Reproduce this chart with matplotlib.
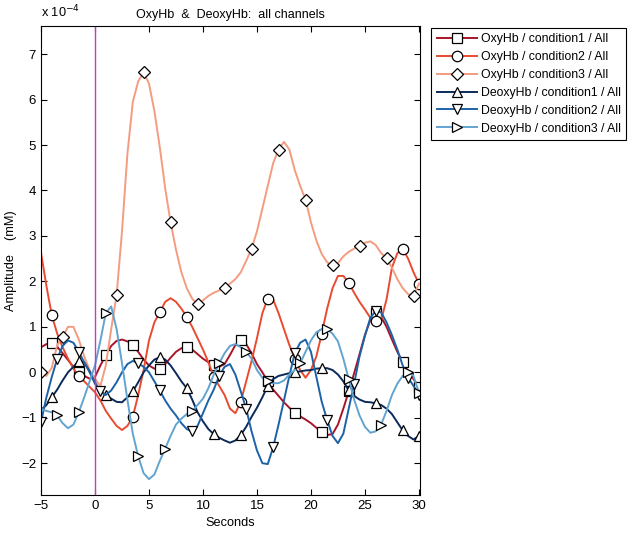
import numpy as np
import matplotlib
matplotlib.use("Agg")
import matplotlib.pyplot as plt

plt.rcParams['font.family'] = ['Liberation Sans', 'DejaVu Sans']

# time axis, seconds (0.5 s steps)
t = np.arange(-5, 30.01, 0.5)

# amplitudes in units of 1e-4 mM
oxy_c1 = [0.55, 0.62, 0.64, 0.56, 0.42, 0.27, 0.12, 0.01, -0.08, -0.14,
          -0.10, 0.15, 0.38, 0.58, 0.69, 0.72, 0.68, 0.60, 0.45, 0.28,
          0.15, 0.08, 0.08, 0.18, 0.32, 0.45, 0.53, 0.55, 0.50, 0.40,
          0.30, 0.22, 0.16, 0.12, 0.18, 0.38, 0.60, 0.72, 0.62, 0.42,
          0.18, 0.00, -0.20, -0.38, -0.52, -0.66, -0.78, -0.89, -0.97, -1.04,
          -1.12, -1.22, -1.32, -1.38, -1.36, -1.15, -0.80, -0.42, -0.02, 0.40,
          0.82, 1.15, 1.30, 1.22, 1.00, 0.72, 0.45, 0.22, 0.02, -0.15,
          -0.32]
oxy_c2 = [2.63, 1.90, 1.25, 0.85, 0.55, 0.30, 0.08, -0.08, -0.20, -0.32,
          -0.44, -0.62, -0.85, -1.02, -1.18, -1.27, -1.18, -0.98, -0.50, 0.05,
          0.70, 1.10, 1.32, 1.55, 1.63, 1.55, 1.40, 1.22, 1.00, 0.75,
          0.50, 0.22, -0.10, -0.30, -0.50, -0.80, -0.90, -0.65, -0.20, 0.25,
          0.75, 1.30, 1.62, 1.60, 1.30, 0.95, 0.60, 0.30, 0.05, -0.12,
          0.05, 0.35, 0.85, 1.40, 1.85, 2.12, 2.12, 1.97, 1.75, 1.55,
          1.38, 1.20, 1.12, 1.15, 1.60, 2.30, 2.62, 2.72, 2.50, 2.20,
          1.95]
oxy_c3 = [0.00, -0.08, 0.10, 0.60, 0.78, 1.00, 1.00, 0.72, 0.35, 0.05,
          -0.15, -0.30, 0.15, 0.95, 1.70, 3.10, 4.80, 5.95, 6.40, 6.60,
          6.35, 5.75, 4.95, 4.05, 3.30, 2.70, 2.20, 1.85, 1.62, 1.50,
          1.58, 1.68, 1.75, 1.80, 1.86, 1.95, 2.05, 2.20, 2.45, 2.72,
          3.10, 3.60, 4.10, 4.60, 4.90, 5.07, 4.90, 4.45, 4.10, 3.80,
          3.30, 2.90, 2.60, 2.42, 2.35, 2.40, 2.55, 2.65, 2.72, 2.78,
          2.85, 2.88, 2.80, 2.62, 2.52, 2.30, 2.05, 1.85, 1.72, 1.68,
          1.95]
deoxy_c1 = [-0.83, -0.72, -0.55, -0.38, -0.18, 0.00, 0.12, 0.25, 0.22, 0.02,
            -0.25, -0.42, -0.50, -0.58, -0.65, -0.66, -0.55, -0.42, -0.22, 0.00,
            0.15, 0.28, 0.33, 0.28, 0.15, -0.02, -0.20, -0.35, -0.60, -0.88,
            -1.08, -1.25, -1.36, -1.44, -1.50, -1.55, -1.50, -1.38, -1.20, -0.98,
            -0.78, -0.55, -0.30, -0.15, -0.08, -0.05, -0.02, 0.00, 0.02, 0.04,
            0.05, 0.08, 0.09, 0.09, 0.05, -0.05, -0.20, -0.40, -0.52, -0.60,
            -0.65, -0.66, -0.68, -0.72, -0.80, -0.92, -1.10, -1.28, -1.40, -1.48,
            -1.40]
deoxy_c2 = [-1.10, -0.55, -0.10, 0.30, 0.58, 0.70, 0.65, 0.45, 0.22, 0.00,
            -0.22, -0.42, -0.50, -0.40, -0.22, 0.00, 0.18, 0.25, 0.20, 0.12,
            0.00, -0.20, -0.40, -0.62, -0.80, -0.95, -1.12, -1.25, -1.30, -1.18,
            -0.90, -0.62, -0.38, -0.08, 0.12, 0.18, -0.05, -0.42, -0.80, -1.30,
            -1.72, -2.00, -2.02, -1.65, -1.15, -0.62, -0.08, 0.42, 0.65, 0.72,
            0.45, -0.10, -0.65, -1.05, -1.40, -1.56, -1.35, -0.80, -0.25, 0.35,
            0.80, 1.20, 1.35, 1.32, 1.10, 0.82, 0.50, 0.15, -0.12, -0.30,
            -0.50]
deoxy_c3 = [-0.80, -0.85, -0.88, -0.95, -1.12, -1.23, -1.15, -0.88, -0.55, -0.20,
            0.15, 0.70, 1.30, 1.45, 0.95, 0.20, -0.60, -1.35, -1.85, -2.22,
            -2.35, -2.25, -1.95, -1.68, -1.40, -1.15, -1.02, -0.92, -0.85, -0.72,
            -0.58, -0.35, -0.05, 0.20, 0.42, 0.58, 0.62, 0.55, 0.45, 0.30,
            0.05, -0.12, -0.20, -0.24, -0.24, -0.18, -0.05, 0.05, 0.20, 0.45,
            0.70, 0.88, 0.95, 0.95, 0.85, 0.68, 0.30, -0.15, -0.60, -0.95,
            -1.20, -1.33, -1.30, -1.15, -0.85, -0.50, -0.25, -0.08, 0.00, -0.08,
            -0.45]

labels = ['OxyHb / condition1 / All', 'OxyHb / condition2 / All',
          'OxyHb / condition3 / All', 'DeoxyHb / condition1 / All',
          'DeoxyHb / condition2 / All', 'DeoxyHb / condition3 / All']
series = [oxy_c1, oxy_c2, oxy_c3, deoxy_c1, deoxy_c2, deoxy_c3]
colors = ['#A8152B', '#EA4B30', '#F39C80', '#0B2A5B', '#1C62A6', '#62A4D0']
markers = ['s', 'o', 'D', '^', 'v', '>']
# which samples carry a marker
mark_idx = [
    [2, 7, 12, 17, 22, 27, 32, 37, 42, 47, 52, 57, 62, 67, 70],
    [2, 7, 17, 22, 27, 32, 37, 42, 47, 52, 57, 62, 67, 70],
    [0, 4, 14, 19, 24, 29, 34, 39, 44, 49, 54, 59, 64, 69],
    [2, 7, 12, 17, 22, 27, 32, 37, 42, 47, 52, 57, 62, 67, 70],
    [0, 3, 7, 11, 18, 22, 28, 33, 38, 43, 47, 53, 58, 62, 68, 70],
    [3, 7, 12, 18, 23, 28, 33, 38, 42, 48, 53, 57, 63, 68, 70],
]

fig = plt.figure(figsize=(6.38, 5.33), dpi=100)
ax = fig.add_axes([0.0643, 0.0713, 0.594, 0.880])

for y, c, m, mi, lab in zip(series, colors, markers, mark_idx, labels):
    ms = 6.5 if m == 'D' else 7.5
    ax.plot(t, y, color=c, lw=1.4, marker=m, markevery=mi, ms=ms,
            mfc='white', mec='black', mew=0.9, label=lab)

ax.axvline(0, color='#C23BC8', lw=1.0)

ax.set_xlim(-5, 30.1)
ax.set_ylim(-2.7, 7.62)
ax.set_xticks([-5, 0, 5, 10, 15, 20, 25, 30])
ax.set_yticks(range(-2, 8))
ax.tick_params(direction='in', top=True, right=True, length=4, labelsize=9.5)
for s in ax.spines.values():
    s.set_linewidth(0.8)

ax.set_xlabel('Seconds', fontsize=9.2, labelpad=4)
ax.set_ylabel('Amplitude    (mM)', fontsize=9.2, labelpad=3)
ax.set_title('OxyHb  &  DeoxyHb:  all channels', fontsize=9, pad=6)
ax.text(0.0, 1.012, r'x 10$^{-4}$', transform=ax.transAxes, fontsize=9.2,
        ha='left', va='bottom')

leg = fig.legend(loc='upper left', bbox_to_anchor=(0.676, 0.948),
                 borderaxespad=0, fontsize=8.8, handlelength=3.3,
                 labelspacing=0.48, borderpad=0.45, handletextpad=0.3,
                 fancybox=False, framealpha=1, edgecolor='black')
leg.get_frame().set_linewidth(0.8)

fig.savefig('out.png', dpi=100)
